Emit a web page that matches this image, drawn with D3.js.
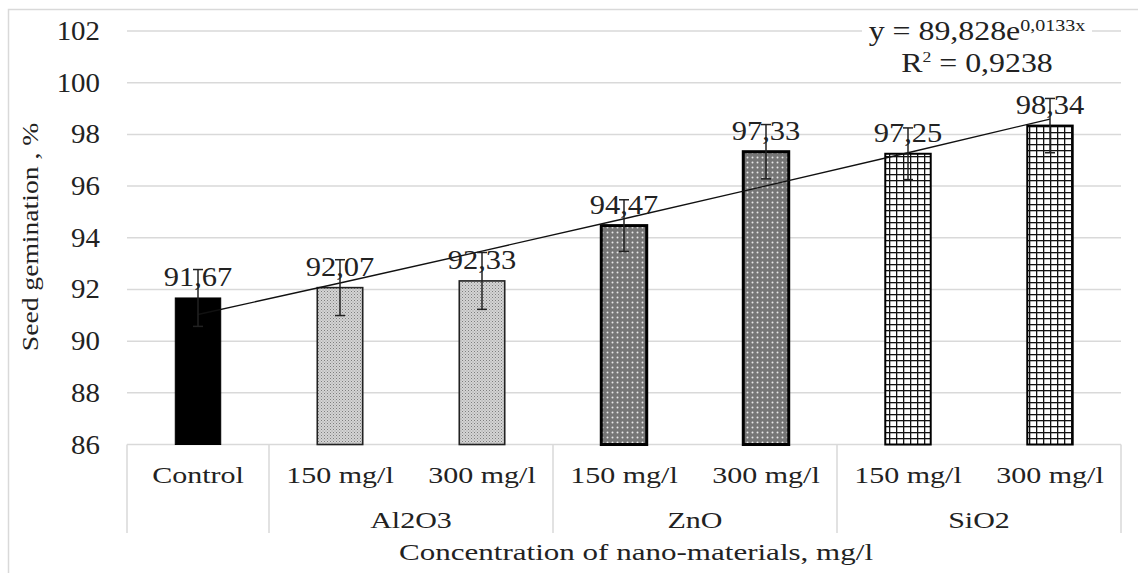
<!DOCTYPE html>
<html>
<head>
<meta charset="utf-8">
<script src="https://cdn.jsdelivr.net/npm/d3@7"></script>
<style>
  body { margin: 0; background: #fff; }
  text { font-family: 'Liberation Serif', 'Times New Roman', serif; fill: #222; }
</style>
</head>
<body>
<div class="first"></div>
<script>
// chart data
const concLabels = ['Control', '150 mg/l', '300 mg/l', '150 mg/l', '300 mg/l', '150 mg/l', '300 mg/l'];
const materials = ['', 'Al2O3', 'Al2O3', 'ZnO', 'ZnO', 'SiO2', 'SiO2'];
const groupNames = ['Al2O3', 'ZnO', 'SiO2'];
const germination = [91.67, 92.07, 92.33, 94.47, 97.33, 97.25, 98.34];
const errors = [1.1, 1.08, 1.1, 1.0, 1.05, 1.0, 1.05];
const yTicks = [86, 88, 90, 92, 94, 96, 98, 100, 102];
// exponential trendline from the chart: y = a * e^(b*x)
const trendA = 89.828;
const trendB = 0.0133;

const width = 1138;
const height = 573;
const margin = {top: 31, left: 127, right: 17, bottom: 128};

const svg = d3.select('.first').append('svg')
  .attr('width', width).attr('height', height);

// outer frame
svg.append('rect')
  .attr('x', 8.5).attr('y', 9.5)
  .attr('width', width + 20).attr('height', height + 20)
  .attr('fill', 'none').attr('stroke', '#d9d9d9').attr('stroke-width', 1.5);

// patterns for the bar fills
const defs = svg.append('defs');
const pAl = defs.append('pattern').attr('id', 'pat-al')
  .attr('width', 3).attr('height', 3).attr('patternUnits', 'userSpaceOnUse');
pAl.append('rect').attr('width', 3).attr('height', 3).attr('fill', '#d4d4d4');
pAl.append('rect').attr('width', 1).attr('height', 1).attr('fill', '#7e7e7e');
pAl.append('rect').attr('x', 1.5).attr('y', 1.5).attr('width', 1).attr('height', 1).attr('fill', '#9a9a9a');

const pZn = defs.append('pattern').attr('id', 'pat-zn')
  .attr('width', 5).attr('height', 5).attr('patternUnits', 'userSpaceOnUse');
pZn.append('rect').attr('width', 5).attr('height', 5).attr('fill', '#767676');
pZn.append('circle').attr('cx', 2.5).attr('cy', 2.5).attr('r', 1).attr('fill', '#e8e8e8');

const pSi = defs.append('pattern').attr('id', 'pat-si')
  .attr('width', 7).attr('height', 6).attr('patternUnits', 'userSpaceOnUse');
pSi.append('rect').attr('width', 7).attr('height', 6).attr('fill', '#fff');
pSi.append('rect').attr('x', 0).attr('width', 1.3).attr('height', 6).attr('fill', '#111');
pSi.append('rect').attr('y', 0).attr('width', 7).attr('height', 1.3).attr('fill', '#111');

const fills = {'': '#000', 'Al2O3': 'url(#pat-al)', 'ZnO': 'url(#pat-zn)', 'SiO2': 'url(#pat-si)'};
const strokes = {'': '#000', 'Al2O3': '#222', 'ZnO': '#000', 'SiO2': '#000'};
const strokeW = {'': 1, 'Al2O3': 1.6, 'ZnO': 3, 'SiO2': 2};

// scales
const idx = d3.range(concLabels.length);
const x = d3.scaleBand()
  .domain(idx)
  .range([margin.left, width - margin.right])
  .paddingInner(0.68)
  .paddingOuter(0.34);
const y = d3.scaleLinear()
  .domain([86, 102])
  .range([height - margin.bottom - 0.5, margin.top]);

const step = x.step();
const gap = (step - x.bandwidth()) / 2;

// stretched text, the picture has wide-ish serif text
function label(g, px, py, str, size, sx, anchor, rot) {
  return g.append('text')
    .attr('transform', `translate(${px},${py})${rot ? ` rotate(${rot})` : ''} scale(${sx},1)`)
    .attr('text-anchor', anchor)
    .attr('font-size', size)
    .text(str);
}

// gridlines
svg.append('g').selectAll('.grid').data(yTicks).enter()
  .append('line')
  .attr('class', 'grid')
  .attr('x1', margin.left).attr('x2', width - margin.right)
  .attr('y1', d => y(d)).attr('y2', d => y(d))
  .attr('stroke', '#d9d9d9').attr('stroke-width', 1.5);

// y tick labels
const yLab = svg.append('g');
yTicks.forEach(t => label(yLab, 100, y(t) + 9, t, 27, 1.07, 'end'));

// y title
label(svg.append('g'), 38, 237, 'Seed gemination , %', 23, 1.2, 'middle', -90);

// category separators below the plot
const sepX = [0, 1, 3, 5].map(i => x(i) - gap).concat([x(6) + x.bandwidth() + gap]);
svg.append('g').selectAll('.sep').data(sepX).enter()
  .append('line')
  .attr('class', 'sep')
  .attr('x1', d => d).attr('x2', d => d)
  .attr('y1', y(86)).attr('y2', 533)
  .attr('stroke', '#d9d9d9').attr('stroke-width', 1.5);

// bars
svg.append('g').selectAll('.bar').data(idx).enter()
  .append('rect')
  .attr('class', 'bar')
  .attr('x', i => x(i))
  .attr('y', i => y(germination[i]))
  .attr('width', x.bandwidth())
  .attr('height', i => y(86) - y(germination[i]))
  .attr('fill', i => fills[materials[i]])
  .attr('stroke', i => strokes[materials[i]])
  .attr('stroke-width', i => strokeW[materials[i]]);

// trendline, drawn over the bar centres
const line = d3.line()
  .x(d => x(d) + x.bandwidth() / 2)
  .y(d => y(trendA * Math.exp(trendB * (d + 1))));
svg.append('path')
  .datum(idx)
  .attr('d', line)
  .attr('fill', 'none')
  .attr('stroke', '#111')
  .attr('stroke-width', 1.4);

// data labels
const dl = svg.append('g');
idx.forEach(i => {
  label(dl, x(i) + x.bandwidth() / 2, y(germination[i]) - 12,
    germination[i].toFixed(2).replace('.', ','), 27, 1.13, 'middle');
});

// error bars
const eb = svg.append('g').attr('stroke', '#222').attr('stroke-width', 1.5);
idx.forEach(i => {
  const cx = x(i) + x.bandwidth() / 2;
  const top = y(germination[i] + errors[i]);
  const bot = y(germination[i] - errors[i]);
  eb.append('line').attr('x1', cx).attr('x2', cx).attr('y1', top).attr('y2', bot);
  eb.append('line').attr('x1', cx - 5).attr('x2', cx + 5).attr('y1', top).attr('y2', top);
  eb.append('line').attr('x1', cx - 5).attr('x2', cx + 5).attr('y1', bot).attr('y2', bot);
});

// category labels, group labels and x title
const xl = svg.append('g');
idx.forEach(i => label(xl, x(i) + x.bandwidth() / 2, 483, concLabels[i], 24, 1.25, 'middle'));
groupNames.forEach((g, k) => {
  const first = 1 + k * 2;
  const cx = (x(first) - gap + x(first + 1) + x.bandwidth() + gap) / 2;
  label(xl, cx, 528, g, 24, 1.25, 'middle');
});
label(xl, 636, 560, 'Concentration of nano-materials, mg/l', 23, 1.35, 'middle');

// trendline equation box
const eq = svg.append('g');
eq.append('rect')
  .attr('x', 862).attr('y', 13).attr('width', 230).attr('height', 64)
  .attr('fill', '#fff');
const eqText = eq.append('text')
  .attr('transform', 'translate(977,40) scale(1.18,1)')
  .attr('text-anchor', 'middle')
  .attr('font-size', 27);
eqText.append('tspan').text(`y = ${String(trendA).replace('.', ',')}e`);
eqText.append('tspan').attr('font-size', 17).attr('dy', -9)
  .text(`${String(trendB).replace('.', ',')}x`);
const r2 = eq.append('text')
  .attr('transform', 'translate(977,72) scale(1.18,1)')
  .attr('text-anchor', 'middle')
  .attr('font-size', 27);
r2.append('tspan').text('R');
r2.append('tspan').attr('font-size', 15).attr('dy', -10).text('2');
r2.append('tspan').attr('dy', 10).text(' = 0,9238');
</script>
</body>
</html>
